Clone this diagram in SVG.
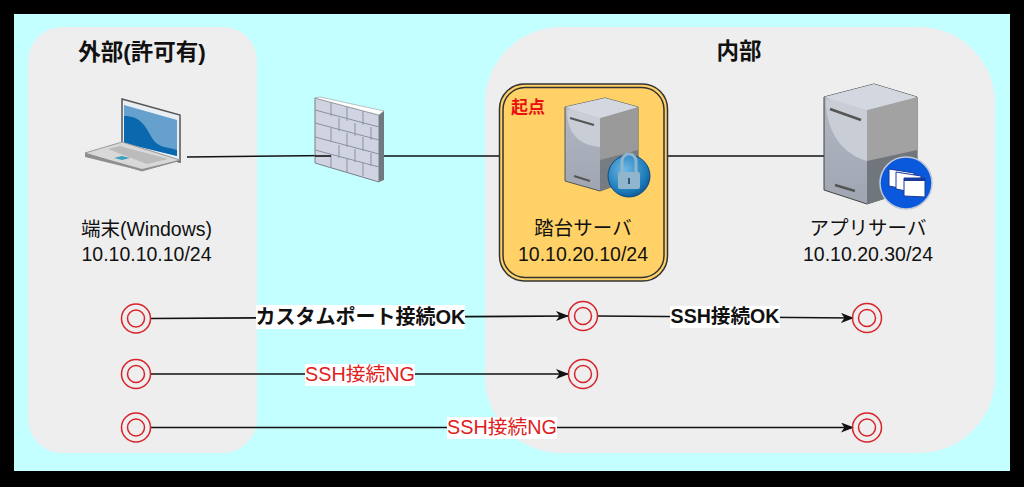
<svg xmlns="http://www.w3.org/2000/svg" width="1024" height="487" viewBox="0 0 1024 487">
<style>
text{font-family:"Liberation Sans","Noto Sans CJK JP",sans-serif;text-anchor:middle;fill:#111}
.h{font-size:22.5px;font-weight:bold}
.l{font-size:19.500px}
.e{font-size:20px;font-weight:bold}
.n{fill:#e02020;font-size:19.800px}
.c{fill:none;stroke:#111;stroke-width:1.6}
.o{fill:none;stroke:#d8232a;stroke-width:1.5}
.bg{fill:#fff}
.g{fill:#eeeeee}
</style>
<defs>
<marker id="a" markerWidth="14" markerHeight="12" refX="12" refY="5" orient="auto" markerUnits="userSpaceOnUse"><path d="M0 0L13 5L0 10L3.5 5Z" fill="#111"/></marker>
<g id="ring"><circle r="14.5" class="o"/><circle r="8.5" class="o"/></g>
<linearGradient id="sv" x1="0" y1="0" x2="0" y2="1"><stop offset="0" stop-color="#b4b9c4"/><stop offset="1" stop-color="#9fa6b2"/></linearGradient>
<radialGradient id="lockb" cx=".4" cy=".35" r=".75"><stop offset="0" stop-color="#6fb8e6"/><stop offset=".7" stop-color="#1c7ab8"/><stop offset="1" stop-color="#0a4c86"/></radialGradient>
</defs>
<rect width="1024" height="487" fill="#000"/>
<rect x="14" y="14" width="996" height="457" fill="#c4ffff"/>
<g id="zone-outside"><rect x="28" y="27" width="229" height="426" rx="34" class="g"/><text class="h" x="142" y="60">外部(許可有)</text></g>
<g id="zone-inside"><rect x="485" y="27" width="510" height="426" rx="76" class="g"/><text class="h" x="739" y="59">内部</text></g>
<g id="connectors">
<path class="c" d="M187 157L331 155.500"/>
<path class="c" d="M384 156H500"/>
<path class="c" d="M668 156H825"/>
<path class="c" marker-end="url(#a)" d="M150 318.500L568 316"/>
<path class="c" marker-end="url(#a)" d="M597 316L853 318"/>
<path class="c" marker-end="url(#a)" d="M151 374H568"/>
<path class="c" marker-end="url(#a)" d="M151 427.500H853"/>
</g>
<g id="node-laptop">
<path d="M122 99L180 115V162L122 148Z" fill="#e8eef4" stroke="#555" stroke-width="1.500"/>
<path d="M124 105L177 120V156L124 143Z" fill="#66a0cc"/>
<path d="M124 116C140 116 145 125 152 138C158 148 168 147 177 150V156L124 143Z" fill="#0a68ae"/>
<path d="M85 153L122 142L180 160L142 171Z" fill="#d8d8d8" stroke="#999"/>
<path d="M85 153V157L142 171L180 161V160L142 169Z" fill="#8f8f8f"/>
<path d="M108 149L120 146L168 159L147 164Z" fill="#bbb"/>
<path d="M114 158L122 156L130 158L122 160Z" fill="#3aa0c0"/>
<text class="l" x="146.500" y="236">端末(Windows)</text><text class="l" x="146.500" y="261">10.10.10.10/24</text>
</g>
<g id="node-firewall">
<path d="M315 98L379 115V182L315 163Z" fill="#d0d4e2" stroke="#7a7f88"/>
<path d="M315 98L320 97L384 111L379 115Z" fill="#fff" stroke="#888" stroke-width=".5"/>
<path d="M379 115L384 111V180L379 182Z" fill="#707880"/>
<path fill="none" stroke="#8b90a0" d="M315 110L379 127M315 123L379 140M315 137L379 154M315 150L379 167M331 102V116M347 107V121M363 111V125M339 118V131M355 123V136M371 127V140M331 128V142M347 133V147M363 137V151M339 145V158M355 149V162M371 153V166M331 155V168M347 159V172M363 163V176"/>
<path class="c" d="M315 156H331"/>
</g>
<g id="node-jump">
<rect x="499.500" y="84" width="168" height="197" rx="25" fill="#ffd166" stroke="#333" stroke-width="1.500"/>
<rect x="503" y="87.500" width="161" height="190" rx="22" fill="none" stroke="#333" stroke-width="1.500"/>
<text x="528" y="113" font-size="17" font-weight="bold" style="fill:#e81010">起点</text>
<path d="M565 107L605 98L638 107V177L600 191L565 181Z" fill="url(#sv)" stroke="#555"/>
<path d="M567 110C567 135 580 145 600 147L636 147L637 108L605 99Z" fill="#c9cdd6"/>
<path d="M600 118L638 107V177L600 191Z" fill="#9a9a9a"/>
<path d="M600 160L638 150V177L600 191Z" fill="#777b82"/>
<path d="M565 107L605 98L638 107L600 118Z" fill="#d3d7e0"/>
<path d="M570 118L594 125M574 176L590 181" stroke="#555" stroke-width="2" fill="none"/>
<circle cx="629" cy="176" r="21" fill="url(#lockb)" stroke="#0a4c86"/>
<rect x="618" y="172" width="22" height="17" rx="2" fill="#8fb6cc"/>
<path d="M622 172V161a7 7 0 0 1 14 0V172" fill="none" stroke="#8fb6cc" stroke-width="3"/>
<path d="M629 178V184" stroke="#2a5a7a" stroke-width="2"/>
<text class="l" x="583" y="235">踏台サーバ</text><text class="l" x="583" y="261">10.10.20.10/24</text>
</g>
<g id="node-app">
<path d="M824 97L874 84L917 97V188L867 204L824 190Z" fill="url(#sv)" stroke="#444"/>
<path d="M826 100C826 135 845 155 867 161L915 150V100L874 86Z" fill="#c9cdd6"/>
<path d="M867 110L917 97V188L867 204Z" fill="#a2a2a2"/>
<path d="M867 161L917 150V188L867 204Z" fill="#70767c"/>
<path d="M824 97L874 84L917 97L867 110Z" fill="#d3d7e0"/>
<path d="M830 109L861 120M835 185L855 191" stroke="#555" stroke-width="2.500" fill="none"/>
<circle cx="906" cy="183" r="26" fill="#0a58dc" stroke="#c0c8d8" stroke-width="1.500"/>
<path d="M889 169L914 173V191L889 186Z" fill="#fff" stroke="#1a3a9a"/>
<path d="M896 172L921 176V194L896 189Z" fill="#fff" stroke="#1a3a9a"/>
<path d="M904 178H925V197L904 196Z" fill="#fff" stroke="#1a3a9a"/>
<path d="M904 178H925V181H904Z" fill="#1a3a9a"/>
<text class="l" x="868" y="235">アプリサーバ</text><text class="l" x="868" y="261">10.10.20.30/24</text>
</g>
<g id="node-r1"><use href="#ring" x="136" y="318.500"/></g>
<g id="node-r2"><use href="#ring" x="136" y="374"/></g>
<g id="node-r3"><use href="#ring" x="136" y="427.500"/></g>
<g id="node-r4"><use href="#ring" x="583" y="316"/></g>
<g id="node-r5"><use href="#ring" x="583" y="374"/></g>
<g id="node-r6"><use href="#ring" x="867" y="318"/></g>
<g id="node-r7"><use href="#ring" x="867" y="427.500"/></g>
<g id="labels">
<rect x="256" y="305" width="209" height="24" class="bg"/><text class="e" x="360.500" y="324">カスタムポート接続OK</text>
<rect x="670" y="306" width="110" height="22" class="bg"/><text class="e" style="font-size:19.6px" x="725" y="323">SSH接続OK</text>
<rect x="305" y="364" width="110" height="22" class="bg"/><text class="l n" x="360" y="381">SSH接続NG</text>
<rect x="447" y="417" width="110" height="22" class="bg"/><text class="l n" x="502" y="434">SSH接続NG</text>
</g>
</svg>
